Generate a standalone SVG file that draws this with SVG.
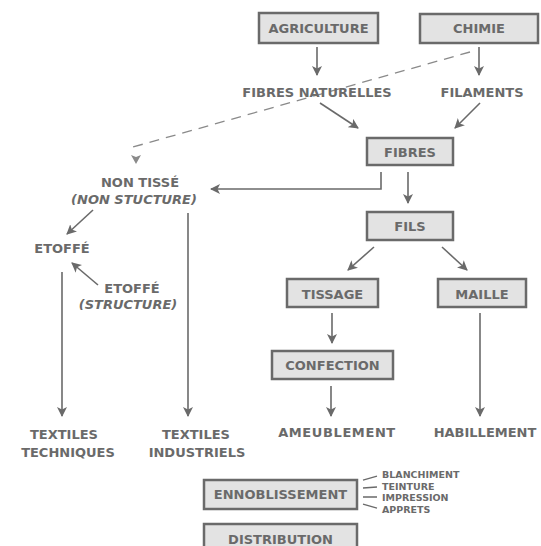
<svg xmlns="http://www.w3.org/2000/svg" width="541" height="546" viewBox="0 0 541 546">
<defs>
<marker id="ah" viewBox="0 0 10 10" refX="9" refY="5" markerWidth="10" markerHeight="10" markerUnits="userSpaceOnUse" orient="auto">
<path d="M0,0 L10,5 L0,10 L2.5,5 Z" fill="#6a6a6a"/>
</marker>
</defs>
<style>
.box{fill:#e3e3e3;stroke:#6a6a6a;stroke-width:2.5}
.t{font-family:"DejaVu Sans","Liberation Sans",sans-serif;font-weight:bold;font-size:13px;fill:#6a6a6a;text-anchor:middle}
.i{font-style:italic}
.s{font-family:"DejaVu Sans","Liberation Sans",sans-serif;font-weight:bold;font-size:9.5px;fill:#6a6a6a}
.c{stroke:#6a6a6a;stroke-width:1.6;fill:none}
.a{marker-end:url(#ah)}
.d{stroke:#8a8a8a;stroke-width:1.3;fill:none;stroke-dasharray:10 7}
</style>
<g id="connectors">
<path class="d" d="M470,52 L133,147"/>
<path d="M131,155 L136,157 L141,155 L136,164 Z" fill="#8a8a8a"/>
<path class="c a" d="M317,47 V75"/>
<path class="c a" d="M479,47 V75"/>
<path class="c a" d="M320,103 L358,128"/>
<path class="c a" d="M480,103 L455,128"/>
<path class="c a" d="M381,172 V189 H211"/>
<path class="c a" d="M408,172 V203"/>
<path class="c a" d="M374,247 L348,270"/>
<path class="c a" d="M442,247 L467,270"/>
<path class="c a" d="M332,313 V343"/>
<path class="c a" d="M331,386 V416"/>
<path class="c a" d="M480,313 V416"/>
<path class="c a" d="M93,210 L67,234"/>
<path class="c a" d="M98,285 L72,263"/>
<path class="c a" d="M62,272 V416"/>
<path class="c a" d="M188,213 V416"/>
<path class="c" d="M363,480 L377,476 M363,488 L377,487 M363,497 L377,497 M363,504 L377,508" style="stroke-width:1.3"/>
</g>
<g id="agriculture"><rect class="box" x="259" y="13" width="119" height="30"/><text class="t" x="318.5" y="33">AGRICULTURE</text></g>
<g id="chimie"><rect class="box" x="420" y="14" width="118" height="29"/><text class="t" x="479" y="33">CHIMIE</text></g>
<g id="fibres-naturelles"><text class="t" x="317" y="97">FIBRES NATURELLES</text></g>
<g id="filaments"><text class="t" x="482" y="97">FILAMENTS</text></g>
<g id="fibres"><rect class="box" x="367" y="138" width="86" height="27"/><text class="t" x="410" y="157">FIBRES</text></g>
<g id="fils"><rect class="box" x="367" y="212" width="86" height="28"/><text class="t" x="410" y="231">FILS</text></g>
<g id="non-tisse"><text class="t" x="140" y="187">NON TISSÉ</text><text class="t i" x="134" y="204">(NON STUCTURE)</text></g>
<g id="etoffe"><text class="t" x="62" y="253">ETOFFÉ</text></g>
<g id="etoffe-structure"><text class="t" x="132" y="293">ETOFFÉ</text><text class="t i" x="128" y="309">(STRUCTURE)</text></g>
<g id="tissage"><rect class="box" x="287" y="279" width="91" height="28"/><text class="t" x="332.5" y="299">TISSAGE</text></g>
<g id="maille"><rect class="box" x="438" y="279" width="88" height="28"/><text class="t" x="482" y="299">MAILLE</text></g>
<g id="confection"><rect class="box" x="272" y="351" width="121" height="28"/><text class="t" x="332.5" y="370">CONFECTION</text></g>
<g id="textiles-techniques"><text class="t" x="64" y="439">TEXTILES</text><text class="t" x="68" y="457">TECHNIQUES</text></g>
<g id="textiles-industriels"><text class="t" x="196" y="439">TEXTILES</text><text class="t" x="197" y="457">INDUSTRIELS</text></g>
<g id="ameublement"><text class="t" x="337" y="437" style="letter-spacing:0.6px">AMEUBLEMENT</text></g>
<g id="habillement"><text class="t" x="485" y="437">HABILLEMENT</text></g>
<g id="ennoblissement"><rect class="box" x="204" y="480" width="153" height="29"/><text class="t" x="280.5" y="499">ENNOBLISSEMENT</text>
<text class="s" x="382" y="478">BLANCHIMENT</text><text class="s" x="382" y="490">TEINTURE</text><text class="s" x="382" y="501">IMPRESSION</text><text class="s" x="382" y="513">APPRETS</text></g>
<g id="distribution"><rect class="box" x="204" y="524" width="153" height="30"/><text class="t" x="280.5" y="544">DISTRIBUTION</text></g>
</svg>
